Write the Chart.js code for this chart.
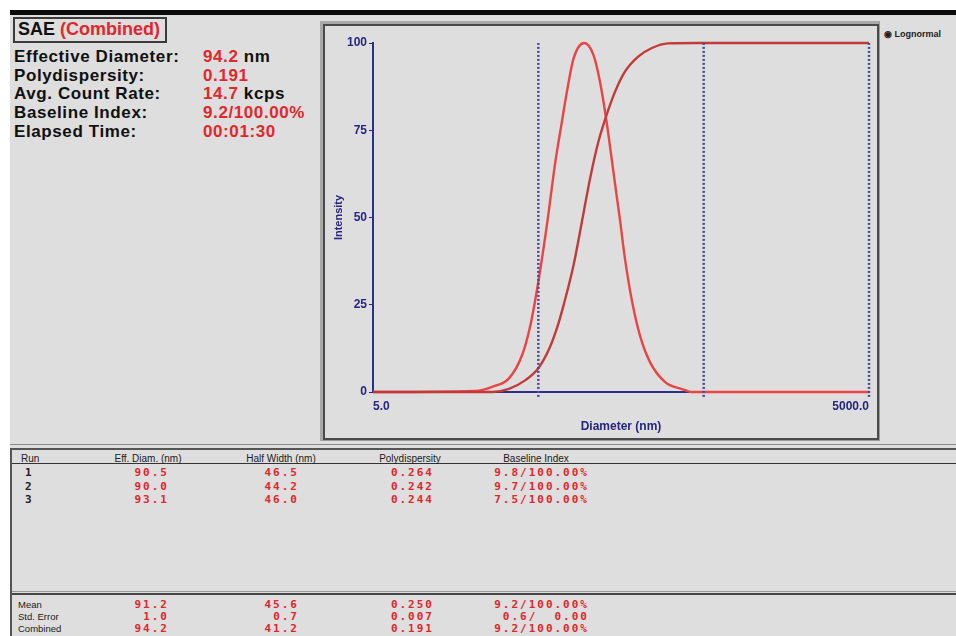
<!DOCTYPE html>
<html>
<head>
<meta charset="utf-8">
<script src="https://cdn.jsdelivr.net/npm/chart.js@4.4.1/dist/chart.umd.min.js"></script>
<style>
  html, body { margin:0; padding:0; background:#ffffff; }
  body { width:956px; height:636px; position:relative; overflow:hidden; font-family:"Liberation Sans", Arial, sans-serif; }
  #panel { position:absolute; left:10px; top:10px; width:946px; height:626px; background:#dedede; border-top:5px solid #0a0a0a; box-sizing:border-box; }
  .abs { position:absolute; white-space:pre; }
  .big { font-weight:bold; font-size:17px; color:#101010; line-height:20px; letter-spacing:0.6px; }
  .red { color:#e3262b; }
  #titlebox { position:absolute; left:13px; top:17px; width:150px; height:22px; border:2px solid #3a3a3a; }
  #frameOuter { position:absolute; left:320px; top:21px; width:560px; height:420px; box-sizing:border-box; border-top:3px solid #a9a9a9; border-left:3px solid #a9a9a9; border-right:1px solid #9a9a9a; border-bottom:1px solid #9a9a9a; }
  #frameInner { position:absolute; left:323px; top:24px; width:556px; height:416px; box-sizing:border-box; border:2px solid #4a4a4a; }
  #chartBox { position:absolute; left:322px; top:24px; width:554px; height:414px; }
  .hdr { font-size:10px; color:#202020; line-height:11px; }
  .mono { font-family:"DejaVu Sans Mono", "Liberation Mono", monospace; font-size:11px; letter-spacing:2px; line-height:12px; font-weight:bold; }
  .lbl { font-size:9.5px; color:#202020; line-height:10px; }
  .hline { position:absolute; height:0; }
</style>
</head>
<body>
<div id="panel"></div>

<div id="titlebox"></div>
<div class="abs big" style="left:18px; top:19px; font-size:18px; letter-spacing:0;">SAE <span class="red">(Combined)</span></div>
<div id="summary"></div>

<div id="frameOuter"></div>
<div id="frameInner"></div>
<div id="chartBox"><canvas id="c" width="554" height="414"></canvas></div>

<div class="abs" style="left:884px; top:29px; font-size:9px; font-weight:bold; color:#222; line-height:10px;">&#9673; Lognormal</div>

<div class="hline" style="left:10px; top:444px; width:946px; border-top:1px solid #8a8a8a;"></div>
<div class="hline" style="left:10px; top:448px; width:946px; border-top:2px solid #555;"></div>
<div style="position:absolute; left:10px; top:448px; width:2px; height:188px; background:#555;"></div>
<div class="hline" style="left:12px; top:463px; width:944px; border-top:1px solid #333;"></div>
<div class="hline" style="left:12px; top:591px; width:944px; border-top:1px solid #9a9a9a;"></div>
<div class="hline" style="left:12px; top:593px; width:944px; border-top:2px solid #444;"></div>
<div id="table"></div>

<script>
// ---------- summary panel ----------
const summaryLabels = ["Effective Diameter:", "Polydispersity:", "Avg. Count Rate:", "Baseline Index:", "Elapsed Time:"];
const summaryValues = ["94.2", "0.191", "14.7", "9.2/100.00%", "00:01:30"];
const summaryUnits  = [" nm", "", " kcps", "", ""];

// ---------- distribution data ----------
const distDiameters = [5, 20.9, 26.3, 33.2, 39.9, 44.8, 50, 56.4, 63.4, 69.4, 74.4, 81.7, 94.7, 107.7, 118, 129.4, 138.7, 148.7, 155.9, 167, 183, 205.6, 236, 290, 383, 420, 5000];
const distIntensity = [0, 0.3, 1.5, 3.9, 10.6, 19.2, 31.6, 48, 66, 77.4, 86, 95.6, 100, 96.6, 88.9, 77.4, 67, 56.4, 49.3, 38.3, 26.8, 16.3, 8.7, 3, 0.6, 0, 0];
const cumDiameters  = [5, 26.3, 33.2, 41.8, 50, 57.7, 64.8, 71.1, 81.7, 91.5, 102.8, 115.4, 129.4, 145.4, 167, 200.8, 241.5, 304, 460, 5000];
const cumIntensity  = [0, 0, 0.9, 3.4, 6.8, 12, 18.3, 24.9, 36.4, 48.5, 61.2, 71.7, 79.4, 86, 91.8, 96.1, 98.5, 99.9, 100, 100];
const markerDiameters = [50, 500, 5000];
const yTickValues = [0, 25, 50, 75, 100];
const xTickValues = [5, 5000];

// ---------- table data ----------
const runLabels   = ["1", "2", "3"];
const runEffDiam  = ["90.5", "90.0", "93.1"];
const runHalfW    = ["46.5", "44.2", "46.0"];
const runPoly     = ["0.264", "0.242", "0.244"];
const runBaseline = ["9.8/100.00%", "9.7/100.00%", "7.5/100.00%"];
const statLabels   = ["Mean", "Std. Error", "Combined"];
const statEffDiam  = ["91.2", "1.0", "94.2"];
const statHalfW    = ["45.6", "0.7", "41.2"];
const statPoly     = ["0.250", "0.007", "0.191"];
const statBaseline = ["9.2/100.00%", "0.6/  0.00", "9.2/100.00%"];
const headers = ["Run", "Eff. Diam. (nm)", "Half Width (nm)", "Polydispersity", "Baseline Index"];

// summary
(function(){
  const s = document.getElementById('summary');
  const tops = [47, 65.5, 84, 102.5, 121.5];
  let h = '';
  summaryLabels.forEach((l, i) => {
    h += `<div class="abs big" style="left:14px; top:${tops[i]}px;">${l}</div>`;
    h += `<div class="abs big" style="left:203px; top:${tops[i]}px;"><span class="red">${summaryValues[i]}</span>${summaryUnits[i]}</div>`;
  });
  s.innerHTML = h;
})();

// table
(function(){
  const t = document.getElementById('table');
  let h = '';
  const hdrCenters = [null, 148, 281, 410, 536];
  h += `<div class="abs hdr" style="left:21px; top:453px;">${headers[0]}</div>`;
  for (let i = 1; i < headers.length; i++) {
    h += `<div class="abs hdr" style="left:${hdrCenters[i]-60}px; width:120px; text-align:center; top:453px;">${headers[i]}</div>`;
  }
  const rights = [167, 297, 432, 587];
  const rowTops = [467, 480.5, 494];
  runLabels.forEach((r, i) => {
    h += `<div class="abs mono" style="left:25px; top:${rowTops[i]}px; color:#202020;">${r}</div>`;
    [runEffDiam[i], runHalfW[i], runPoly[i], runBaseline[i]].forEach((v, j) => {
      h += `<div class="abs mono red" style="right:${956 - rights[j] - 2}px; top:${rowTops[i]}px; text-align:right;">${v}</div>`;
    });
  });
  const statTops = [599, 611, 623];
  statLabels.forEach((r, i) => {
    h += `<div class="abs lbl" style="left:18px; top:${statTops[i]+1}px;">${r}</div>`;
    [statEffDiam[i], statHalfW[i], statPoly[i], statBaseline[i]].forEach((v, j) => {
      h += `<div class="abs mono red" style="right:${956 - rights[j] - 2}px; top:${statTops[i]}px; text-align:right;">${v}</div>`;
    });
  });
  t.innerHTML = h;
})();

// ---------- chart ----------
const navy = '#262680';
const datasets = [];
markerDiameters.forEach(d => {
  datasets.push({
    label: 'marker',
    data: [{x: d, y: -1.4}, {x: d, y: 100}],
    borderColor: '#4a4aa4', borderWidth: 2.5, borderDash: [2, 2], pointRadius: 0,
    fill: false, clip: false
  });
});
datasets.push({
  label: 'Cumulative',
  data: cumDiameters.map((d, i) => ({x: d, y: cumIntensity[i]})),
  borderColor: '#c23a3a', borderWidth: 2.4, pointRadius: 0, fill: false,
  cubicInterpolationMode: 'monotone', clip: 3
});
datasets.push({
  label: 'Intensity',
  data: distDiameters.map((d, i) => ({x: d, y: distIntensity[i]})),
  borderColor: '#ea4444', borderWidth: 2.4, pointRadius: 0, fill: false,
  cubicInterpolationMode: 'monotone', clip: 3
});

new Chart(document.getElementById('c'), {
  type: 'line',
  data: { datasets },
  options: {
    responsive: false,
    animation: false,
    devicePixelRatio: 1,
    layout: { padding: { top: 19, right: 4, left: 0, bottom: 0 } },
    plugins: { legend: { display: false }, tooltip: { enabled: false } },
    scales: {
      x: {
        type: 'logarithmic',
        min: 5, max: 5000,
        afterBuildTicks: (s) => { s.ticks = xTickValues.map(v => ({value: v})); },
        afterFit: (s) => { s.height = 46; },
        ticks: {
          callback: (v) => Number(v).toFixed(1),
          align: 'inner', maxRotation: 0, autoSkip: false, padding: 7,
          color: navy, font: { family: 'Liberation Sans', size: 12, weight: 'bold' }
        },
        grid: { display: false, drawTicks: false },
        border: { display: true, color: '#2e2e8e', width: 2 },
        title: { display: true, text: 'Diameter (nm)', color: navy,
          font: { family: 'Liberation Sans', size: 12, weight: 'bold' }, padding: { top: 0, bottom: 4 } }
      },
      y: {
        type: 'linear', min: 0, max: 100,
        afterBuildTicks: (s) => { s.ticks = yTickValues.map(v => ({value: v})); },
        afterFit: (s) => { s.width = 51; },
        ticks: { color: navy, padding: 2, font: { family: 'Liberation Sans', size: 12, weight: 'bold' } },
        grid: { display: true, drawOnChartArea: false, drawTicks: true, tickLength: 4, color: navy, lineWidth: 1 },
        border: { display: true, color: '#2e2e8e', width: 2 },
        title: { display: true, text: 'Intensity', color: navy,
          font: { family: 'Liberation Sans', size: 11, weight: 'bold' }, padding: { top: 10, bottom: 0 } }
      }
    }
  }
});
</script>
</body>
</html>
